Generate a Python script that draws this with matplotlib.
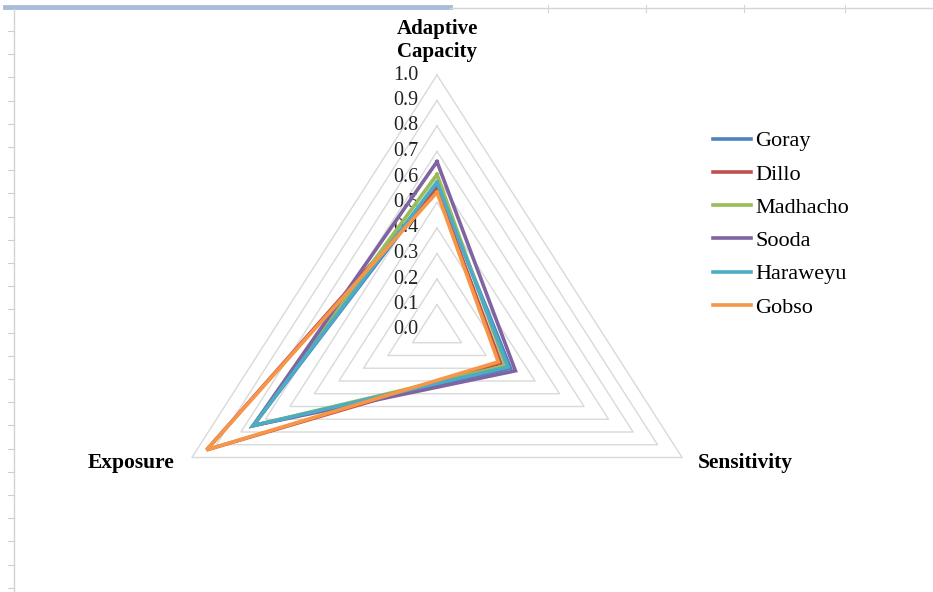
import numpy as np
import matplotlib
matplotlib.use("Agg")
import matplotlib.pyplot as plt
from matplotlib.lines import Line2D

# axes of the radar, clockwise from the top
axes_names = ["Adaptive\nCapacity", "Sensitivity", "Exposure"]
axes_angles = [90, -30, 210]

sites = ["Goray", "Dillo", "Madhacho", "Sooda", "Haraweyu", "Gobso"]
adaptive = [0.57, 0.55, 0.61, 0.66, 0.58, 0.54]
sensitivity = [0.30, 0.26, 0.28, 0.32, 0.29, 0.25]
exposure = [0.75, 0.94, 0.75, 0.75, 0.75, 0.94]

colors = ["#4F81BD", "#C0504D", "#9BBB59", "#8064A2", "#4BACC6", "#F79646"]

ticks = [0.0, 0.1, 0.2, 0.3, 0.4, 0.5, 0.6, 0.7, 0.8, 0.9, 1.0]

plt.rcParams['font.family'] = ['Liberation Serif', 'DejaVu Serif']

W, H = 933, 592
fig = plt.figure(figsize=(W / 100, H / 100), dpi=100)
ax = fig.add_axes([0, 0, 1, 1])
ax.axis("off")

# centre of the web in pixels and pixel size of one unit
cx, cy = 437, 330
ux, uy = 283, 255
ax.set_xlim(-cx / ux, (W - cx) / ux)
ax.set_ylim(-(H - cy) / uy, cy / uy)

ang = np.radians(axes_angles)

def to_xy(vals):
    vals = np.asarray(vals + vals[:1], dtype=float)
    a = np.concatenate([ang, ang[:1]])
    return vals * np.cos(a), vals * np.sin(a)

# triangular gridlines
for t in ticks[1:]:
    gx, gy = to_xy([t, t, t])
    ax.plot(gx, gy, color="#d9d9d9", lw=1.0, zorder=1)

# tick labels along the top axis
for t in ticks:
    ax.text(-19 / ux, t, "%.1f" % t, ha="right", va="center",
            fontsize=14.5, color="#222222")

for name, a_val, s_val, e_val, c in zip(sites, adaptive, sensitivity, exposure, colors):
    x, y = to_xy([a_val, s_val, e_val])
    ax.plot(x, y, color=c, lw=2.6, label=name, zorder=3, solid_joinstyle="miter")

# category labels
ax.text(0, 1.135, axes_names[0], ha="center", va="center", fontsize=15,
        fontweight="bold", linespacing=1.2)
ax.text(308 / ux, -0.522, axes_names[1], ha="center", va="center",
        fontsize=15.5, fontweight="bold")
ax.text(-306 / ux, -0.522, axes_names[2], ha="center", va="center",
        fontsize=15.5, fontweight="bold")

leg = ax.legend(loc="upper left", bbox_to_anchor=(704 / W, 1 - 122 / H),
                frameon=False, fontsize=16, handlelength=1.7,
                handletextpad=0.2, labelspacing=0.57, borderaxespad=0)

# worksheet border bits around the chart
fig.add_artist(Line2D([5 / W, 450 / W], [1 - 7 / H, 1 - 7 / H], color="#a9bcd9", lw=3.5))
fig.add_artist(Line2D([450 / W, 1], [1 - 8 / H, 1 - 8 / H], color="#d4d4d4", lw=1.0))
for tx in [548, 646, 744, 845]:
    fig.add_artist(Line2D([tx / W, tx / W], [1 - 5 / H, 1 - 12 / H], color="#d4d4d4", lw=0.8))
fig.add_artist(Line2D([14 / W, 14 / W], [0, 1 - 9 / H], color="#d4d4d4", lw=1.0))
for ty in np.arange(31, 592, 23.2):
    fig.add_artist(Line2D([8 / W, 14 / W], [1 - ty / H, 1 - ty / H], color="#cfcfcf", lw=0.8))

fig.savefig("out.png", dpi=100)
